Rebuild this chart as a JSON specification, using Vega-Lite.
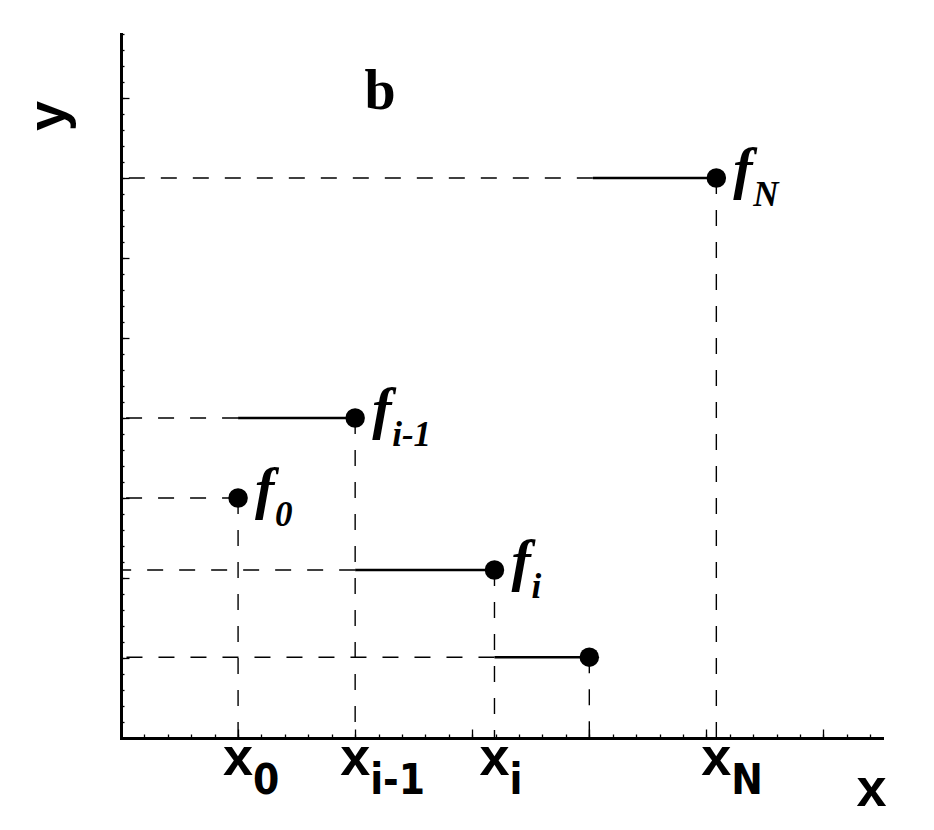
{
  "$schema": "https://vega.github.io/schema/vega-lite/v6.json",
  "width": 761,
  "height": 704,
  "autosize": {"type": "none"},
  "padding": {"left": 121, "top": 34, "right": 52, "bottom": 92},
  "background": "white",
  "config": {
    "view": {"stroke": null},
    "axis": {"domainColor": "black", "tickColor": "black", "grid": false, "labels": false, "domainWidth": 3, "tickWidth": 1.3, "domainCap": "square"}
  },
  "datasets": {
    "pts": [
      {"x": 1, "y": 3, "xs": 1},
      {"x": 2, "y": 4, "xs": 1},
      {"x": 3.19, "y": 2.1, "xs": 2},
      {"x": 4, "y": 1.01, "xs": 3.19},
      {"x": 5.085, "y": 7, "xs": 4.03}
    ],
    "labs": [
      {"x": 1, "y": 3, "sub": "0"},
      {"x": 2, "y": 4, "sub": "i-1"},
      {"x": 3.19, "y": 2.1, "sub": "i"},
      {"x": 5.085, "y": 7, "sub": "N"}
    ]
  },
  "layer": [
    {
      "data": {"name": "pts"},
      "mark": {"type": "rule", "strokeDash": [16, 16], "strokeWidth": 1.4, "color": "black"},
      "encoding": {
        "x": {"field": "xs", "type": "quantitative", "scale": {"domain": [0, 6.5], "nice": false, "zero": false},
          "axis": {"orient": "bottom", "title": null, "values": [0,0.2,0.4,0.6,0.8,1,1.2,1.4,1.6,1.8,2,2.2,2.4,2.6,2.8,3,3.2,3.4,3.6,3.8,4,4.2,4.4,4.6,4.8,5,5.2,5.4,5.6,5.8,6,6.2,6.4], "tickSize": -4}},
        "x2": {"datum": 0},
        "y": {"field": "y", "type": "quantitative", "scale": {"domain": [0, 8.8], "nice": false, "zero": false},
          "axis": {"orient": "left", "title": null, "values": [0.2,0.4,0.6,0.8,1,1.2,1.4,1.6,1.8,2,2.2,2.4,2.6,2.8,3,3.2,3.4,3.6,3.8,4,4.2,4.4,4.6,4.8,5,5.2,5.4,5.6,5.8,6,6.2,6.4,6.6,6.8,7,7.2,7.4,7.6,7.8,8,8.2,8.4,8.6,8.8], "tickSize": -3}}
      }
    },
    {
      "data": {"name": "pts"},
      "mark": {"type": "rule", "strokeDash": [16, 16], "strokeWidth": 1.4, "color": "black"},
      "encoding": {
        "x": {"field": "x", "type": "quantitative", "scale": {"domain": [0, 6.5], "nice": false, "zero": false},
          "axis": {"orient": "bottom", "title": null, "values": [1, 2, 3, 4, 5, 6], "tickSize": -9}},
        "y": {"field": "y", "type": "quantitative", "scale": {"domain": [0, 8.8], "nice": false, "zero": false},
          "axis": {"orient": "left", "title": null, "values": [1, 2, 3, 4, 5, 6, 7, 8], "tickSize": -8}},
        "y2": {"datum": 0}
      }
    },
    {
      "data": {"name": "pts"},
      "mark": {"type": "rule", "strokeWidth": 2.6, "color": "black"},
      "encoding": {
        "x": {"field": "xs", "type": "quantitative", "scale": {"domain": [0, 6.5], "nice": false, "zero": false}, "axis": null},
        "x2": {"field": "x"},
        "y": {"field": "y", "type": "quantitative", "scale": {"domain": [0, 8.8], "nice": false, "zero": false}, "axis": null}
      }
    },
    {
      "data": {"name": "pts"},
      "mark": {"type": "circle", "size": 380, "color": "black", "opacity": 1},
      "encoding": {
        "x": {"field": "x", "type": "quantitative", "scale": {"domain": [0, 6.5], "nice": false, "zero": false}, "axis": null},
        "y": {"field": "y", "type": "quantitative", "scale": {"domain": [0, 8.8], "nice": false, "zero": false}, "axis": null}
      }
    },
    {
      "data": {"name": "labs"},
      "mark": {"type": "text", "font": "Liberation Serif", "fontWeight": "bold", "fontStyle": "italic", "fontSize": 58, "align": "left", "baseline": "alphabetic", "dx": 17, "dy": 10, "color": "black"},
      "encoding": {
        "x": {"field": "x", "type": "quantitative", "scale": {"domain": [0, 6.5], "nice": false, "zero": false}, "axis": null},
        "y": {"field": "y", "type": "quantitative", "scale": {"domain": [0, 8.8], "nice": false, "zero": false}, "axis": null},
        "text": {"value": "f"}
      }
    },
    {
      "data": {"name": "labs"},
      "mark": {"type": "text", "font": "Liberation Serif", "fontWeight": "bold", "fontStyle": "italic", "fontSize": 35, "align": "left", "baseline": "alphabetic", "dx": 37, "dy": 28, "color": "black"},
      "encoding": {
        "x": {"field": "x", "type": "quantitative", "scale": {"domain": [0, 6.5], "nice": false, "zero": false}, "axis": null},
        "y": {"field": "y", "type": "quantitative", "scale": {"domain": [0, 8.8], "nice": false, "zero": false}, "axis": null},
        "text": {"field": "sub"}
      }
    },
    {
      "data": {"name": "labs"},
      "mark": {"type": "text", "font": "Liberation Sans", "fontWeight": "bold", "fontSize": 54, "align": "center", "baseline": "alphabetic", "dy": 37, "color": "black"},
      "encoding": {
        "x": {"field": "x", "type": "quantitative", "scale": {"domain": [0, 6.5], "nice": false, "zero": false}, "axis": null},
        "y": {"datum": 0, "type": "quantitative", "scale": {"domain": [0, 8.8], "nice": false, "zero": false}, "axis": null},
        "text": {"value": "x"}
      }
    },
    {
      "data": {"name": "labs"},
      "mark": {"type": "text", "font": "Liberation Sans Narrow, DejaVu Sans Condensed, Liberation Sans", "fontWeight": "bold", "fontSize": 42, "align": "left", "baseline": "alphabetic", "dx": 15, "dy": 56, "color": "black"},
      "encoding": {
        "x": {"field": "x", "type": "quantitative", "scale": {"domain": [0, 6.5], "nice": false, "zero": false}, "axis": null},
        "y": {"datum": 0, "type": "quantitative", "scale": {"domain": [0, 8.8], "nice": false, "zero": false}, "axis": null},
        "text": {"field": "sub"}
      }
    },
    {
      "data": {"values": [{"x": 6.41, "y": 0, "t": "x"}]},
      "mark": {"type": "text", "font": "Liberation Sans", "fontWeight": "bold", "fontSize": 54, "align": "center", "baseline": "alphabetic", "dy": 68, "color": "black"},
      "encoding": {
        "x": {"field": "x", "type": "quantitative", "scale": {"domain": [0, 6.5], "nice": false, "zero": false}, "axis": null},
        "y": {"field": "y", "type": "quantitative", "scale": {"domain": [0, 8.8], "nice": false, "zero": false}, "axis": null},
        "text": {"field": "t"}
      }
    },
    {
      "data": {"values": [{"x": 0, "y": 7.775, "t": "y"}]},
      "mark": {"type": "text", "font": "Liberation Sans", "fontWeight": "bold", "fontSize": 54, "align": "center", "baseline": "alphabetic", "angle": 270, "dy": -56, "color": "black"},
      "encoding": {
        "x": {"field": "x", "type": "quantitative", "scale": {"domain": [0, 6.5], "nice": false, "zero": false}, "axis": null},
        "y": {"field": "y", "type": "quantitative", "scale": {"domain": [0, 8.8], "nice": false, "zero": false}, "axis": null},
        "text": {"field": "t"}
      }
    },
    {
      "data": {"values": [{"x": 2.212, "y": 7.8625, "t": "b"}]},
      "mark": {"type": "text", "font": "Liberation Serif", "fontWeight": "bold", "fontSize": 56, "align": "center", "baseline": "alphabetic", "color": "black"},
      "encoding": {
        "x": {"field": "x", "type": "quantitative", "scale": {"domain": [0, 6.5], "nice": false, "zero": false}, "axis": null},
        "y": {"field": "y", "type": "quantitative", "scale": {"domain": [0, 8.8], "nice": false, "zero": false}, "axis": null},
        "text": {"field": "t"}
      }
    }
  ],
  "resolve": {"axis": {"x": "independent", "y": "independent"}}
}
